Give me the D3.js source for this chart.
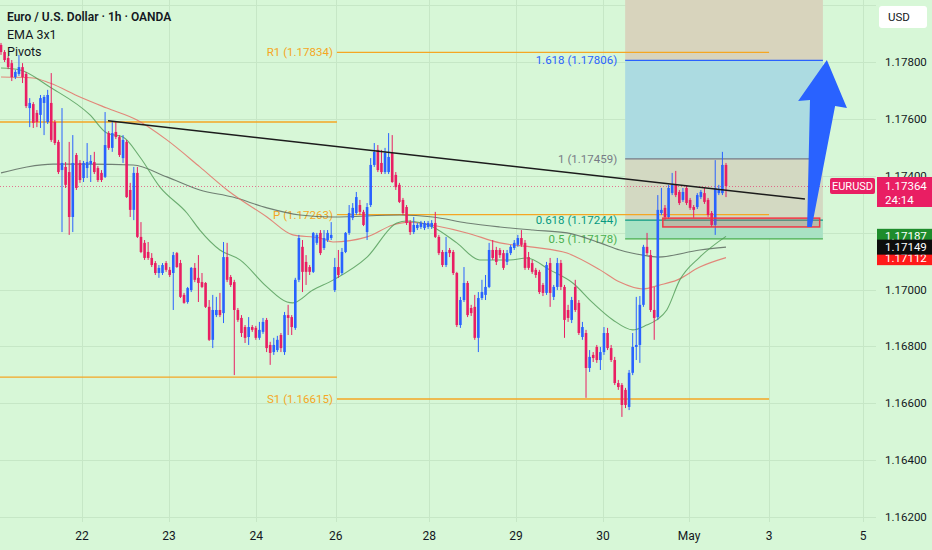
<!DOCTYPE html>
<html><head><meta charset="utf-8">
<script src="https://cdn.jsdelivr.net/npm/d3@7"></script>
<style>
html,body{margin:0;padding:0;background:#d7f7d7;}
svg{display:block;font-family:Roboto,"Noto Sans",sans-serif;}
</style></head><body>
<svg id="chart" width="932" height="550"></svg>
<script>
// hourly candles, [open, high, low, close]
var candles = [
[1.17860,1.17867,1.17825,1.17835],[1.17835,1.17842,1.17800,1.17807],[1.17814,1.17821,1.17775,1.17782],[1.17796,1.17807,1.17733,1.17747],
[1.17747,1.17772,1.17740,1.17765],[1.17758,1.17825,1.17751,1.17782],[1.17782,1.17796,1.17726,1.17747],[1.17758,1.17765,1.17638,1.17645],
[1.17638,1.17673,1.17571,1.17656],[1.17652,1.17659,1.17568,1.17586],[1.17621,1.17631,1.17571,1.17589],[1.17614,1.17684,1.17568,1.17673],
[1.17656,1.17684,1.17543,1.17677],[1.17589,1.17702,1.17582,1.17684],[1.17656,1.17761,1.17519,1.17526],[1.17589,1.17596,1.17508,1.17515],
[1.17519,1.17526,1.17406,1.17413],[1.17420,1.17638,1.17202,1.17445],[1.17431,1.17448,1.17357,1.17368],[1.17413,1.17519,1.17192,1.17255],
[1.17255,1.17543,1.17202,1.17445],[1.17473,1.17480,1.17350,1.17357],[1.17445,1.17455,1.17375,1.17385],[1.17392,1.17452,1.17378,1.17445],
[1.17427,1.17515,1.17392,1.17448],[1.17441,1.17473,1.17378,1.17452],[1.17448,1.17484,1.17406,1.17413],[1.17427,1.17434,1.17378,1.17385],
[1.17410,1.17420,1.17378,1.17385],[1.17396,1.17624,1.17392,1.17508],[1.17550,1.17557,1.17491,1.17498],[1.17498,1.17589,1.17484,1.17550],
[1.17554,1.17589,1.17529,1.17536],[1.17536,1.17543,1.17466,1.17473],[1.17462,1.17543,1.17445,1.17526],[1.17519,1.17526,1.17322,1.17325],
[1.17350,1.17375,1.17255,1.17280],[1.17280,1.17431,1.17244,1.17410],[1.17410,1.17431,1.17181,1.17185],[1.17185,1.17237,1.17128,1.17132],
[1.17164,1.17174,1.17104,1.17111],[1.17132,1.17167,1.17104,1.17111],[1.17111,1.17128,1.17079,1.17086],[1.17093,1.17100,1.17051,1.17058],
[1.17058,1.17086,1.17041,1.17076],[1.17058,1.17093,1.17051,1.17086],[1.17093,1.17100,1.17062,1.17069],[1.17069,1.17079,1.17044,1.17051],
[1.17058,1.17132,1.16928,1.17121],[1.17128,1.17132,1.17076,1.17079],[1.17093,1.17104,1.16970,1.16974],[1.16981,1.16988,1.16950,1.16953],
[1.16956,1.17009,1.16950,1.17005],[1.16998,1.17079,1.16991,1.17076],[1.17076,1.17093,1.17026,1.17034],[1.17041,1.17121,1.16956,1.17023],
[1.17026,1.17058,1.17005,1.17009],[1.17023,1.17026,1.16935,1.16939],[1.16939,1.16963,1.16819,1.16823],[1.16823,1.16981,1.16794,1.16928],
[1.16910,1.16974,1.16903,1.16928],[1.16928,1.16988,1.16903,1.16910],[1.16917,1.17167,1.16882,1.17114],[1.17114,1.17164,1.17026,1.17034],
[1.17044,1.17051,1.17009,1.17016],[1.17026,1.17034,1.16699,1.16928],[1.16928,1.16935,1.16886,1.16893],[1.16900,1.16910,1.16833,1.16847],
[1.16868,1.16875,1.16812,1.16830],[1.16833,1.16903,1.16805,1.16868],[1.16868,1.16875,1.16851,1.16858],[1.16865,1.16872,1.16823,1.16830],
[1.16830,1.16886,1.16823,1.16858],[1.16851,1.16900,1.16844,1.16886],[1.16893,1.16900,1.16780,1.16794],[1.16805,1.16816,1.16735,1.16777],
[1.16780,1.16830,1.16770,1.16805],[1.16787,1.16837,1.16780,1.16823],[1.16840,1.16847,1.16780,1.16794],[1.16780,1.16921,1.16770,1.16910],
[1.16910,1.16946,1.16840,1.16900],[1.16903,1.16910,1.16840,1.16868],[1.16865,1.17041,1.16858,1.17034],[1.17034,1.17192,1.17026,1.17181],
[1.17150,1.17174,1.16991,1.17062],[1.17097,1.17121,1.17016,1.17062],[1.17079,1.17086,1.17051,1.17062],[1.17062,1.17202,1.17058,1.17199],
[1.17164,1.17199,1.17157,1.17192],[1.17199,1.17209,1.17121,1.17128],[1.17146,1.17209,1.17139,1.17181],[1.17174,1.17209,1.17167,1.17199],
[1.17181,1.17237,1.17174,1.17192],[1.16998,1.17111,1.16991,1.17079],[1.17079,1.17139,1.17041,1.17051],[1.17058,1.17146,1.17051,1.17132],
[1.17132,1.17202,1.17128,1.17199],[1.17199,1.17297,1.17192,1.17269],[1.17252,1.17304,1.17244,1.17287],[1.17269,1.17343,1.17262,1.17325],
[1.17297,1.17315,1.17262,1.17273],[1.17273,1.17280,1.17223,1.17227],[1.17202,1.17304,1.17174,1.17290],[1.17297,1.17462,1.17290,1.17438],
[1.17438,1.17515,1.17431,1.17484],[1.17491,1.17508,1.17413,1.17420],[1.17445,1.17491,1.17406,1.17413],[1.17413,1.17498,1.17406,1.17480],
[1.17413,1.17550,1.17406,1.17466],[1.17480,1.17543,1.17375,1.17378],[1.17403,1.17413,1.17350,1.17360],[1.17368,1.17375,1.17304,1.17308],
[1.17315,1.17322,1.17262,1.17269],[1.17290,1.17297,1.17227,1.17234],[1.17237,1.17244,1.17192,1.17202],[1.17202,1.17255,1.17195,1.17227],
[1.17216,1.17234,1.17209,1.17227],[1.17220,1.17241,1.17213,1.17234],[1.17216,1.17241,1.17209,1.17234],[1.17220,1.17241,1.17213,1.17234],
[1.17220,1.17244,1.17213,1.17234],[1.17234,1.17273,1.17181,1.17185],[1.17185,1.17192,1.17121,1.17128],[1.17132,1.17139,1.17079,1.17086],
[1.17086,1.17185,1.17079,1.17132],[1.17139,1.17146,1.17114,1.17128],[1.17132,1.17139,1.17051,1.17058],[1.17058,1.17062,1.16868,1.16875],
[1.16875,1.16974,1.16865,1.16963],[1.16963,1.17079,1.16956,1.17023],[1.17023,1.17030,1.16903,1.16910],[1.16935,1.16946,1.16907,1.16917],
[1.16939,1.16981,1.16823,1.16830],[1.16830,1.16991,1.16780,1.16970],[1.16970,1.17034,1.16963,1.16991],[1.16981,1.17051,1.16963,1.17009],
[1.17009,1.17164,1.17005,1.17139],[1.17139,1.17174,1.17104,1.17111],[1.17139,1.17150,1.17086,1.17097],[1.17139,1.17146,1.17111,1.17121],
[1.17128,1.17139,1.17069,1.17076],[1.17097,1.17139,1.17086,1.17128],[1.17128,1.17157,1.17121,1.17150],[1.17146,1.17174,1.17139,1.17164],
[1.17157,1.17192,1.17150,1.17181],[1.17181,1.17209,1.17150,1.17157],[1.17164,1.17174,1.17069,1.17076],[1.17114,1.17132,1.17069,1.17076],
[1.17093,1.17104,1.17055,1.17062],[1.17069,1.17076,1.17041,1.17051],[1.17062,1.17069,1.16984,1.16991],[1.17016,1.17023,1.16977,1.16988],
[1.16988,1.17097,1.16981,1.17086],[1.17093,1.17111,1.16939,1.16988],[1.16974,1.17016,1.16963,1.17009],[1.17009,1.17111,1.16998,1.17093],
[1.17093,1.17104,1.16998,1.17009],[1.17009,1.17016,1.16830,1.16893],[1.16928,1.16946,1.16886,1.16900],[1.16893,1.16974,1.16882,1.16963],
[1.17009,1.17034,1.16921,1.16928],[1.16953,1.16963,1.16840,1.16847],[1.16833,1.16886,1.16823,1.16868],[1.16847,1.16858,1.16619,1.16724],
[1.16724,1.16787,1.16710,1.16763],[1.16770,1.16780,1.16745,1.16759],[1.16798,1.16805,1.16742,1.16752],[1.16752,1.16798,1.16717,1.16780],
[1.16780,1.16868,1.16770,1.16847],[1.16847,1.16865,1.16787,1.16794],[1.16794,1.16805,1.16745,1.16752],[1.16752,1.16763,1.16664,1.16671],
[1.16671,1.16682,1.16647,1.16657],[1.16664,1.16671,1.16552,1.16594],[1.16647,1.16654,1.16583,1.16594],[1.16587,1.16717,1.16576,1.16707],
[1.16707,1.16847,1.16699,1.16798],[1.16798,1.16974,1.16752,1.16805],[1.16805,1.16977,1.16742,1.16946],[1.16946,1.17157,1.16939,1.17150],
[1.17150,1.17199,1.17121,1.17128],[1.17121,1.17139,1.16921,1.16928],[1.16928,1.17009,1.16823,1.16900],[1.16903,1.17332,1.16893,1.17280],
[1.17269,1.17357,1.17262,1.17280],[1.17287,1.17297,1.17244,1.17255],[1.17255,1.17368,1.17248,1.17357],[1.17339,1.17410,1.17332,1.17368],
[1.17368,1.17417,1.17325,1.17332],[1.17343,1.17350,1.17297,1.17304],[1.17315,1.17357,1.17308,1.17343],[1.17357,1.17364,1.17297,1.17304],
[1.17315,1.17322,1.17280,1.17287],[1.17290,1.17297,1.17252,1.17280],[1.17290,1.17339,1.17283,1.17332],[1.17325,1.17350,1.17318,1.17343],
[1.17339,1.17357,1.17301,1.17308],[1.17315,1.17322,1.17255,1.17262],[1.17269,1.17276,1.17220,1.17227],[1.17227,1.17455,1.17192,1.17357],
[1.17339,1.17368,1.17332,1.17350],[1.17339,1.17484,1.17332,1.17438],[1.17438,1.17445,1.17325,1.17364]
];

// EMA readings [bar index, price]
var emaFast = [[0,1.17779],[5.3,1.17772],[13.6,1.17712],[24.8,1.17614],[29.5,1.17550],[34,1.17536],[38.7,1.17466],[44.3,1.17360],
  [51.8,1.17269],[55.4,1.17209],[61,1.17139],[66.6,1.17104],[74.1,1.17009],[79.7,1.16956],[81.3,1.16953],[86.9,1.16998],[92.5,1.17033],
  [102,1.17114],[110.3,1.17234],[113.1,1.17241],[120.3,1.17220],[127,1.17164],[133.4,1.17104],[141.8,1.17104],[146.5,1.17111],
  [152.9,1.17069],[159.3,1.17023],[164.9,1.16953],[170.5,1.16893],[176,1.16858],[179.9,1.16875],[182.7,1.16893],[185.5,1.16928],
  [189.1,1.17033],[194.7,1.17114],[202,1.17187]];
var emaMid = [[0,1.17747],[8.9,1.17744],[13.6,1.17726],[22,1.17677],[29.5,1.17638],[37.9,1.17596],[46.2,1.17526],[55.4,1.17431],
  [63,1.17350],[74.1,1.17255],[81.3,1.17192],[88.9,1.17181],[92.5,1.17167],[102,1.17185],[109.2,1.17227],[113.9,1.17237],
  [121.4,1.17223],[129.8,1.17199],[139,1.17164],[148.2,1.17149],[157.7,1.17128],[166.9,1.17069],[172.4,1.17026],[178.8,1.17002],
  [183.6,1.17016],[188.3,1.17033],[194.7,1.17079],[202,1.17112]];
var emaSlow = [[0,1.17410],[7.2,1.17431],[14.5,1.17441],[24.8,1.17441],[36.8,1.17438],[46.2,1.17396],[55.4,1.17350],[64.6,1.17325],
  [74.1,1.17287],[83.3,1.17262],[92.5,1.17255],[111.1,1.17262],[120.3,1.17255],[129.8,1.17234],[139,1.17220],[148.2,1.17209],
  [157.7,1.17199],[166.9,1.17164],[172.4,1.17139],[178.8,1.17121],[183,1.17114],[194.7,1.17139],[202,1.17149]];

var dayTicks = [22.6, 46.8, 71.1, 93.3, 119.3, 143.5, 167.7, 191.7, 214, 240.2];
var dayLabels = ["22", "23", "24", "26", "28", "29", "30", "May", "3", "5"];
var priceTicks = [1.162, 1.164, 1.166, 1.168, 1.170, 1.172, 1.174, 1.176, 1.178, 1.180];
// ticks whose labels are readable (1.172 sits under the EMA tags, 1.180 under the USD badge)
var priceLabels = [1.162, 1.164, 1.166, 1.168, 1.170, 1.174, 1.176, 1.178];

var pivotNames = ["R1", "P", "S1"];
var pivotValues = [1.17834, 1.17263, 1.16615];
var pivotSpan = [93.6, 214];
var prevPivotValues = [1.17589, 1.16692];

var fibRatios = ["1.618", "1", "0.618", "0.5"];
var fibValues = [1.17806, 1.17459, 1.17244, 1.17178];
var fibTop = 1.18368;
var fibSpan = [173.9, 229];

var trendLine = [[29.8, 1.17593], [224, 1.17318]];
var zoneBox = [[184.4, 1.17251], [228.1, 1.17220]];
var arrowPts = [[224.6,1.17220],[225.4,1.17666],[222.1,1.17663],[230.1,1.17807],[235.7,1.17638],[232.4,1.17645],[225.9,1.17220]];

var countdown = "24:14";

var upCol = "#2962ff", downCol = "#e91e63";
var fibCols = ["#2962ff", "#787b86", "#089981", "#4caf50"];
var fibFills = ["#d8d4bd", "#acdbe1", "#d3d9c2", "#a9e2c4"];

var svg = d3.select("#chart");
var W = 932, H = 550, plotR = 876;

var x = d3.scaleLinear().domain([0, 202]).range([1, 726]);
var y = d3.scaleLinear().domain([1.162, 1.178]).range([517, 62]);

svg.append("rect").attr("width", W).attr("height", H).attr("fill", "#d7f7d7");

// grid
svg.append("g").selectAll("line").data(priceTicks).join("line")
  .attr("x1", 0).attr("x2", plotR)
  .attr("y1", function(d) { return Math.round(y(d)) + 0.5; })
  .attr("y2", function(d) { return Math.round(y(d)) + 0.5; })
  .attr("stroke", "#c6e7c6").attr("stroke-width", 1);
svg.append("g").selectAll("line").data(dayTicks).join("line")
  .attr("x1", function(d) { return Math.round(x(d)) + 0.5; })
  .attr("x2", function(d) { return Math.round(x(d)) + 0.5; })
  .attr("y1", 0).attr("y2", 522)
  .attr("stroke", "#c6e7c6").attr("stroke-width", 1);

// fib zones
var bands = [fibTop].concat(fibValues);
svg.append("g").selectAll("rect").data(fibFills).join("rect")
  .attr("x", x(fibSpan[0])).attr("width", x(fibSpan[1]) - x(fibSpan[0]))
  .attr("y", function(d, i) { return y(bands[i]); })
  .attr("height", function(d, i) { return y(bands[i + 1]) - y(bands[i]); })
  .attr("fill", function(d) { return d; });

// pivots
var piv = svg.append("g");
piv.selectAll("line.cur").data(pivotValues).join("line").attr("class", "cur")
  .attr("x1", x(pivotSpan[0])).attr("x2", x(pivotSpan[1]))
  .attr("y1", function(d) { return y(d); }).attr("y2", function(d) { return y(d); })
  .attr("stroke", "#f5a623").attr("stroke-width", 1.3);
piv.selectAll("line.prev").data(prevPivotValues).join("line").attr("class", "prev")
  .attr("x1", 0).attr("x2", x(pivotSpan[0]))
  .attr("y1", function(d) { return y(d); }).attr("y2", function(d) { return y(d); })
  .attr("stroke", "#f5a623").attr("stroke-width", 1.3);
piv.selectAll("text").data(pivotValues).join("text")
  .attr("x", x(pivotSpan[0]) - 4).attr("y", function(d) { return y(d) + 4; })
  .attr("text-anchor", "end").attr("font-size", 11.5).attr("fill", "#f5a623")
  .text(function(d, i) { return pivotNames[i] + " (" + d.toFixed(5) + ")"; });

// fib lines + labels
var fib = svg.append("g");
fib.selectAll("line").data(fibValues).join("line")
  .attr("x1", x(fibSpan[0])).attr("x2", x(fibSpan[1]))
  .attr("y1", function(d) { return y(d); }).attr("y2", function(d) { return y(d); })
  .attr("stroke", function(d, i) { return fibCols[i]; }).attr("stroke-width", 1.2);
fib.selectAll("text").data(fibValues).join("text")
  .attr("x", x(fibSpan[0]) - 8).attr("y", function(d) { return y(d) + 4; })
  .attr("text-anchor", "end").attr("font-size", 11.5)
  .attr("fill", function(d, i) { return fibCols[i]; })
  .text(function(d, i) { return fibRatios[i] + " (" + d.toFixed(5) + ")"; });

// EMAs
var line = d3.line().curve(d3.curveMonotoneX)
  .x(function(d) { return x(d[0]); }).y(function(d) { return y(d[1]); });
var emas = [[emaSlow, "#56625a"], [emaMid, "#e56a62"], [emaFast, "#4f9a55"]];
svg.append("g").selectAll("path").data(emas).join("path")
  .attr("d", function(d) { return line(d[0]); })
  .attr("fill", "none").attr("stroke", function(d) { return d[1]; })
  .attr("stroke-width", 1.1).attr("stroke-opacity", 0.8);

// current price dotted line
var last = candles[candles.length - 1];
svg.append("line").attr("x1", 0).attr("x2", plotR)
  .attr("y1", Math.round(y(last[3])) + 0.5).attr("y2", Math.round(y(last[3])) + 0.5)
  .attr("stroke", downCol).attr("stroke-opacity", 0.6).attr("stroke-dasharray", "1,2");

// candles
var cg = svg.append("g").selectAll("g").data(candles).join("g");
cg.append("line")
  .attr("x1", function(d, i) { return x(i); }).attr("x2", function(d, i) { return x(i); })
  .attr("y1", function(d) { return y(d[1]); }).attr("y2", function(d) { return y(d[2]); })
  .attr("stroke", function(d) { return d[3] >= d[0] ? upCol : downCol; }).attr("stroke-width", 1);
cg.append("rect")
  .attr("x", function(d, i) { return x(i) - 1.3; }).attr("width", 2.6)
  .attr("y", function(d) { return y(Math.max(d[0], d[3])); })
  .attr("height", function(d) { return Math.max(1, Math.abs(y(d[0]) - y(d[3]))); })
  .attr("fill", function(d) { return d[3] >= d[0] ? upCol : downCol; });

// trend line
svg.append("line")
  .attr("x1", x(trendLine[0][0])).attr("y1", y(trendLine[0][1]))
  .attr("x2", x(trendLine[1][0])).attr("y2", y(trendLine[1][1]))
  .attr("stroke", "#1c1c1c").attr("stroke-width", 1.5);

// zone box
svg.append("rect")
  .attr("x", x(zoneBox[0][0])).attr("y", y(zoneBox[0][1]))
  .attr("width", x(zoneBox[1][0]) - x(zoneBox[0][0]))
  .attr("height", y(zoneBox[1][1]) - y(zoneBox[0][1]))
  .attr("fill", "rgba(242,54,69,0.22)").attr("stroke", "#f23645").attr("stroke-width", 1.5);

// arrow
svg.append("path")
  .attr("d", d3.line().x(function(d) { return x(d[0]); }).y(function(d) { return y(d[1]); })(arrowPts) + "Z")
  .attr("fill", "#2962ff");

// legend
var lg = svg.append("g").attr("fill", "#131722");
lg.append("text").attr("x", 7).attr("y", 21).attr("font-size", 12).attr("font-weight", 600)
  .text("Euro / U.S. Dollar · 1h · OANDA");
lg.append("text").attr("x", 7).attr("y", 39).attr("font-size", 12.5).text("EMA 3x1");
lg.append("text").attr("x", 7).attr("y", 56).attr("font-size", 12.5).text("Pivots");

// price axis labels
svg.append("g").selectAll("text").data(priceLabels).join("text")
  .attr("x", 885).attr("y", function(d) { return y(d) + 4; })
  .attr("font-size", 11.5).attr("fill", "#131722")
  .text(function(d) { return d.toFixed(5); });

// date labels
svg.append("g").selectAll("text").data(dayTicks).join("text")
  .attr("x", function(d) { return x(d); }).attr("y", 540)
  .attr("text-anchor", "middle").attr("font-size", 12).attr("fill", "#131722")
  .text(function(d, i) { return dayLabels[i]; });

// USD badge
svg.append("rect").attr("x", 879).attr("y", 6).attr("width", 48).attr("height", 22).attr("rx", 3).attr("fill", "#ffffff");
svg.append("text").attr("x", 888).attr("y", 21).attr("font-size", 11.5).attr("fill", "#131722").text("USD");

// EMA last value tags
var tags = [[emaFast, "#1e8c2c"], [emaMid, "#ff1a1a"], [emaSlow, "#0d0d0d"]];
var tg = svg.append("g").selectAll("g").data(tags).join("g");
tg.append("rect").attr("x", 877).attr("width", 55).attr("height", 15)
  .attr("y", function(d) { return y(d[0][d[0].length - 1][1]) - 7.5; })
  .attr("fill", function(d) { return d[1]; });
tg.append("text").attr("x", 885).attr("font-size", 11.5).attr("fill", "#fff")
  .attr("y", function(d) { return y(d[0][d[0].length - 1][1]) + 4; })
  .text(function(d) { return d[0][d[0].length - 1][1].toFixed(5); });

// current price tag
var py = y(last[3]);
svg.append("rect").attr("x", 830).attr("y", py - 8).attr("width", 45).attr("height", 16).attr("rx", 2).attr("fill", downCol);
svg.append("text").attr("x", 852.5).attr("y", py + 4).attr("text-anchor", "middle").attr("font-size", 11)
  .attr("fill", "#fff").text("EURUSD");
svg.append("rect").attr("x", 877).attr("y", py - 9).attr("width", 55).attr("height", 30).attr("fill", downCol);
svg.append("text").attr("x", 885).attr("y", py + 4).attr("font-size", 11.5).attr("fill", "#fff").text(last[3].toFixed(5));
svg.append("text").attr("x", 885).attr("y", py + 18).attr("font-size", 11.5).attr("fill", "#fff").text(countdown);
</script>
</body></html>
